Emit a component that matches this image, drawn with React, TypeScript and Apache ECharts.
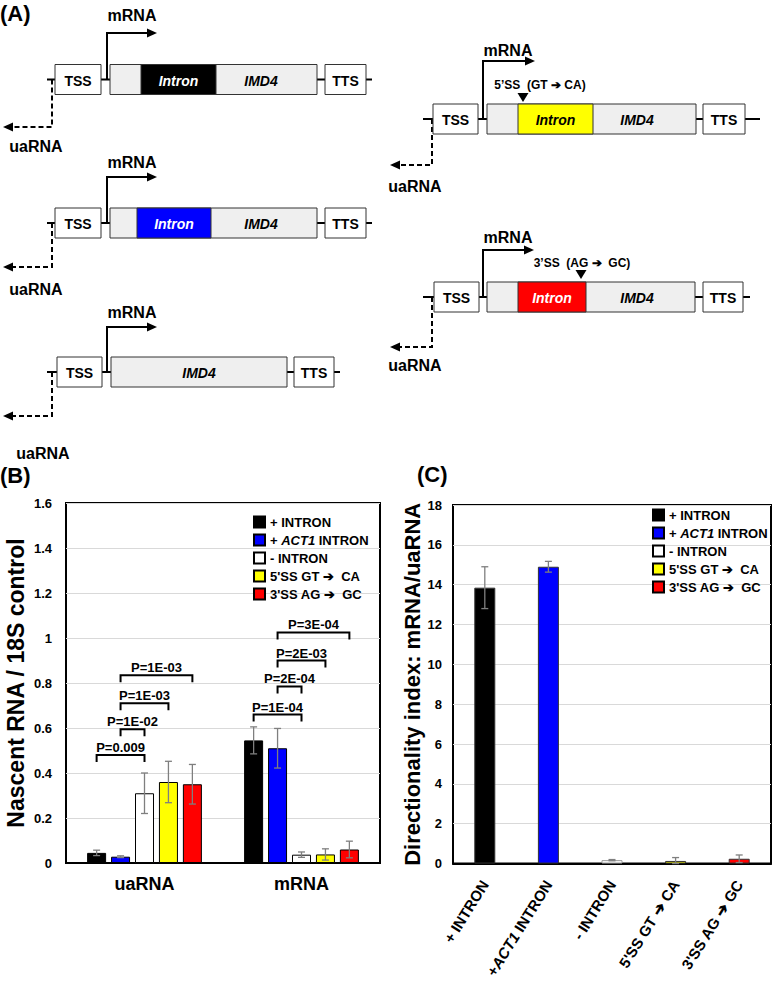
import React, { useEffect, useRef } from 'react';
import * as echarts from 'echarts';

const FONT = '"Liberation Sans", Arial, Helvetica, sans-serif';

// ---------- Panel B data ----------
const rnaCategories = ['uaRNA', 'mRNA'];
const constructNames = ['+ INTRON', '+ ACT1 INTRON', '- INTRON', "5'SS GT ➔  CA", "3'SS AG ➔  GC"];
const constructColors = ['#000000', '#0000ff', '#ffffff', '#ffff00', '#ff0000'];
const plusIntron = [0.045, 0.545];
const plusIntronErr = [0.012, 0.06];
const plusAct1Intron = [0.028, 0.51];
const plusAct1IntronErr = [0.004, 0.088];
const minusIntron = [0.31, 0.037];
const minusIntronErr = [0.09, 0.012];
const ss5Mutant = [0.36, 0.038];
const ss5MutantErr = [0.092, 0.025];
const ss3Mutant = [0.35, 0.06];
const ss3MutantErr = [0.088, 0.037];

const bracketGroup = [0, 0, 0, 0, 1, 1, 1, 1];
const bracketFrom = [0, 1, 1, 1, 0, 1, 1, 1];
const bracketTo = [2, 2, 3, 4, 2, 2, 3, 4];
const bracketY = [0.48, 0.595, 0.71, 0.835, 0.66, 0.785, 0.9, 1.025];
const bracketLabels = ['P=0.009', 'P=1E-02', 'P=1E-03', 'P=1E-03', 'P=1E-04', 'P=2E-04', 'P=2E-03', 'P=3E-04'];

// ---------- Panel C data ----------
const directionCategories = ['+ INTRON', '+ACT1 INTRON', '- INTRON', "5'SS GT ➔ CA", "3'SS AG ➔ GC"];
const directionality = [13.85, 14.9, 0.17, 0.13, 0.24];
const directionalityErr = [1.05, 0.27, 0.03, 0.17, 0.19];

const nascentValues = [plusIntron, plusAct1Intron, minusIntron, ss5Mutant, ss3Mutant];
const nascentErrors = [plusIntronErr, plusAct1IntronErr, minusIntronErr, ss5MutantErr, ss3MutantErr];

// ---------- Panel A layout ----------
type Construct = {
  y: number; lineStart: number; lineEnd: number;
  tss: number[]; gene: number[]; tts: number[];
  intron?: number[]; intronFill?: string; intronText?: string;
  geneLabelX: number;
  mrnaX: number; mrnaTop: number; mrnaEnd: number; mrnaLabelX: number; mrnaLabelY: number;
  uaX: number; uaBottom: number; uaEnd: number; uaLabelX: number; uaLabelY: number;
  mutation?: string; mutationX?: number; mutationY?: number; triX?: number; triY?: number;
};

const constructs: Construct[] = [
  { y: 79.5, lineStart: 47, lineEnd: 372, tss: [55, 101], gene: [110, 317], tts: [325, 366], intron: [141, 216], intronFill: '#000000', intronText: '#ffffff', geneLabelX: 261, mrnaX: 107, mrnaTop: 33, mrnaEnd: 157, mrnaLabelX: 132, mrnaLabelY: 15, uaX: 52, uaBottom: 127, uaEnd: 3, uaLabelX: 36, uaLabelY: 146 },
  { y: 223, lineStart: 47, lineEnd: 372, tss: [55, 101], gene: [110, 317], tts: [325, 366], intron: [137, 211], intronFill: '#0000ff', intronText: '#ffffff', geneLabelX: 261, mrnaX: 107, mrnaTop: 177, mrnaEnd: 157, mrnaLabelX: 132, mrnaLabelY: 162, uaX: 52, uaBottom: 267, uaEnd: 3, uaLabelX: 36, uaLabelY: 289 },
  { y: 372, lineStart: 47, lineEnd: 340, tss: [57, 102], gene: [111, 287], tts: [294, 334], geneLabelX: 199, mrnaX: 107, mrnaTop: 327, mrnaEnd: 157, mrnaLabelX: 132, mrnaLabelY: 312, uaX: 52, uaBottom: 416, uaEnd: 3, uaLabelX: 43, uaLabelY: 453 },
  { y: 119, lineStart: 423, lineEnd: 760, tss: [433, 478], gene: [487, 696], tts: [703, 745], intron: [518, 593], intronFill: '#ffff00', intronText: '#000000', geneLabelX: 637, mrnaX: 483, mrnaTop: 61, mrnaEnd: 535, mrnaLabelX: 508, mrnaLabelY: 50, uaX: 432, uaBottom: 165, uaEnd: 390, uaLabelX: 415, uaLabelY: 186, mutation: '5’SS  (GT ➔ CA)', mutationX: 540, mutationY: 85, triX: 523, triY: 93 },
  { y: 297, lineStart: 423, lineEnd: 750, tss: [434, 479], gene: [487, 695], tts: [703, 743], intron: [518, 586], intronFill: '#ff0000', intronText: '#ffffff', geneLabelX: 637, mrnaX: 483, mrnaTop: 250, mrnaEnd: 534, mrnaLabelX: 508, mrnaLabelY: 237, uaX: 432, uaBottom: 347, uaEnd: 390, uaLabelX: 415, uaLabelY: 365, mutation: '3’SS  (AG ➔  GC)', mutationX: 582, mutationY: 263, triX: 581, triY: 270 },
];

const txt = (text: string, x: number, y: number, size: number, opts: any = {}) => ({
  type: 'text',
  x,
  y,
  z: 10,
  style: {
    text,
    fill: opts.fill || '#000',
    font: `${opts.italic ? 'italic ' : ''}bold ${size}px ${FONT}`,
    align: opts.align || 'center',
    verticalAlign: opts.va || 'middle',
    textAlign: opts.align || 'center',
    textVerticalAlign: opts.va || 'middle',
  },
});

const line = (x1: number, y1: number, x2: number, y2: number, extra: any = {}) => ({
  type: 'line',
  z: 5,
  shape: { x1, y1, x2, y2 },
  style: { stroke: '#000', lineWidth: 2, ...extra },
});

function constructGraphics(c: Construct): any[] {
  const h = 30;
  const top = c.y - h / 2;
  const els: any[] = [];
  els.push(line(c.lineStart, c.y, c.tss[0], c.y));
  els.push(line(c.tss[1], c.y, c.gene[0], c.y));
  els.push(line(c.gene[1], c.y, c.tts[0], c.y));
  els.push(line(c.tts[1], c.y, c.lineEnd, c.y));
  els.push({ type: 'rect', z: 6, shape: { x: c.tss[0], y: top, width: c.tss[1] - c.tss[0], height: h }, style: { fill: '#fff', stroke: '#333', lineWidth: 1 } });
  els.push(txt('TSS', (c.tss[0] + c.tss[1]) / 2, c.y + 1, 14));
  els.push({ type: 'rect', z: 6, shape: { x: c.gene[0], y: top, width: c.gene[1] - c.gene[0], height: h }, style: { fill: '#efefef', stroke: '#333', lineWidth: 1 } });
  if (c.intron) {
    els.push({ type: 'rect', z: 7, shape: { x: c.intron[0], y: top, width: c.intron[1] - c.intron[0], height: h }, style: { fill: c.intronFill, stroke: '#333', lineWidth: 1 } });
    els.push(txt('Intron', (c.intron[0] + c.intron[1]) / 2, c.y + 1, 14, { italic: true, fill: c.intronText }));
  }
  els.push(txt('IMD4', c.geneLabelX, c.y + 1, 14, { italic: true }));
  els.push({ type: 'rect', z: 6, shape: { x: c.tts[0], y: top, width: c.tts[1] - c.tts[0], height: h }, style: { fill: '#fff', stroke: '#333', lineWidth: 1 } });
  els.push(txt('TTS', (c.tts[0] + c.tts[1]) / 2, c.y + 1, 14));
  // mRNA arrow
  els.push({ type: 'polyline', z: 5, shape: { points: [[c.mrnaX, c.y], [c.mrnaX, c.mrnaTop], [c.mrnaEnd - 8, c.mrnaTop]] }, style: { stroke: '#000', lineWidth: 2, fill: null } });
  els.push({ type: 'polygon', z: 5, shape: { points: [[c.mrnaEnd - 10, c.mrnaTop - 4.5], [c.mrnaEnd, c.mrnaTop], [c.mrnaEnd - 10, c.mrnaTop + 4.5]] }, style: { fill: '#000' } });
  els.push(txt('mRNA', c.mrnaLabelX, c.mrnaLabelY, 16));
  // uaRNA dashed arrow
  els.push({ type: 'polyline', z: 5, shape: { points: [[c.uaX, c.y], [c.uaX, c.uaBottom], [c.uaEnd + 8, c.uaBottom]] }, style: { stroke: '#000', lineWidth: 2, lineDash: [5, 3], fill: null } });
  els.push({ type: 'polygon', z: 5, shape: { points: [[c.uaEnd + 10, c.uaBottom - 4.5], [c.uaEnd, c.uaBottom], [c.uaEnd + 10, c.uaBottom + 4.5]] }, style: { fill: '#000' } });
  els.push(txt('uaRNA', c.uaLabelX, c.uaLabelY, 16));
  if (c.mutation) {
    els.push(txt(c.mutation, c.mutationX!, c.mutationY!, 12));
    els.push({ type: 'polygon', z: 8, shape: { points: [[c.triX! - 5.5, c.triY!], [c.triX! + 5.5, c.triY!], [c.triX!, c.triY! + 9]] }, style: { fill: '#000' } });
  }
  return els;
}

const BAR_W = 19;
const BAR_GAP = 0.26;
const PITCH = BAR_W * (1 + BAR_GAP);
const ERR_COLOR = '#7f7f7f';

const italicFormatter = (name: string) => (name.indexOf('ACT1') >= 0 ? name.replace('ACT1', '{i|ACT1}') : name);

export default function App() {
  const ref = useRef<HTMLDivElement>(null);

  useEffect(() => {
    if (!ref.current) return;
    const chart = echarts.init(ref.current, null, { renderer: 'svg' });

    const labelStyle = { fontFamily: FONT, fontWeight: 'bold', fontSize: 13, color: '#000' };
    const legendBase = {
      orient: 'vertical',
      icon: 'rect',
      itemWidth: 11,
      itemHeight: 11,
      itemGap: 4,
      padding: 0,
      selectedMode: false,
      data: constructNames,
      formatter: italicFormatter,
      textStyle: {
        ...labelStyle,
        lineHeight: 14,
        rich: { i: { fontFamily: FONT, fontWeight: 'bold', fontStyle: 'italic', fontSize: 13, color: '#000', lineHeight: 14 } },
      },
    };

    const errorDataB: number[][] = [];
    nascentValues.forEach((vals, s) => vals.forEach((v, c) => errorDataB.push([c, v, nascentErrors[s][c], s])));

    const errorDataC = directionality.map((v, i) => [i, v, directionalityErr[i]]);

    const drawError = (xCenter: number, yTop: number, yBot: number) => ({
      type: 'group',
      children: [
        { type: 'line', shape: { x1: xCenter, y1: yTop, x2: xCenter, y2: yBot }, style: { stroke: ERR_COLOR, lineWidth: 1.3 } },
        { type: 'line', shape: { x1: xCenter - 3.5, y1: yTop, x2: xCenter + 3.5, y2: yTop }, style: { stroke: ERR_COLOR, lineWidth: 1.3 } },
        { type: 'line', shape: { x1: xCenter - 3.5, y1: yBot, x2: xCenter + 3.5, y2: yBot }, style: { stroke: ERR_COLOR, lineWidth: 1.3 } },
      ],
    });

    const graphics: any[] = [
      txt('(A)', 0, 13, 22, { align: 'left' }),
      txt('(B)', 0, 475, 22, { align: 'left' }),
      txt('(C)', 417, 474, 22, { align: 'left' }),
    ];
    constructs.forEach((c) => graphics.push(...constructGraphics(c)));

    const option: any = {
      animation: false,
      backgroundColor: '#ffffff',
      textStyle: { fontFamily: FONT },
      graphic: graphics,
      legend: [
        { ...legendBase, left: 253, top: 515 },
        { ...legendBase, left: 652, top: 508 },
      ],
      grid: [
        { left: 66, top: 503, width: 314, height: 360, show: true, borderColor: '#000', borderWidth: 2, backgroundColor: 'transparent' },
        { left: 453, top: 505, width: 318, height: 361, show: true, borderColor: '#000', borderWidth: 2, backgroundColor: 'transparent' },
      ],
      xAxis: [
        {
          type: 'category', gridIndex: 0, data: rnaCategories,
          axisTick: { show: false },
          axisLine: { lineStyle: { color: '#000', width: 2 } },
          axisLabel: { ...labelStyle, fontSize: 18, margin: 12 },
        },
        {
          type: 'category', gridIndex: 1, data: directionCategories,
          axisTick: { show: false },
          axisLine: { lineStyle: { color: '#000', width: 2 } },
          axisLabel: {
            ...labelStyle, fontSize: 15, rotate: 58, interval: 0, margin: 18,
            formatter: italicFormatter,
            rich: { i: { fontFamily: FONT, fontWeight: 'bold', fontStyle: 'italic', fontSize: 15, color: '#000' } },
          },
        },
      ],
      yAxis: [
        {
          type: 'value', gridIndex: 0, min: 0, max: 1.6, interval: 0.2,
          name: 'Nascent RNA / 18S control', nameLocation: 'middle', nameGap: 39,
          nameTextStyle: { fontFamily: FONT, fontWeight: 'bold', fontSize: 23, color: '#000' },
          axisLine: { show: false }, axisTick: { show: false },
          axisLabel: { ...labelStyle, margin: 14 },
          splitLine: { lineStyle: { color: '#d9d9d9', width: 1 } },
        },
        {
          type: 'value', gridIndex: 1, min: 0, max: 18, interval: 2,
          name: 'Directionality index: mRNA/uaRNA', nameLocation: 'middle', nameGap: 29,
          nameTextStyle: { fontFamily: FONT, fontWeight: 'bold', fontSize: 22, color: '#000' },
          axisLine: { show: false }, axisTick: { show: false },
          axisLabel: { ...labelStyle, margin: 11 },
          splitLine: { lineStyle: { color: '#d9d9d9', width: 1 } },
        },
      ],
      series: [
        ...constructNames.map((name, i) => ({
          type: 'bar', name, xAxisIndex: 0, yAxisIndex: 0,
          data: nascentValues[i],
          barWidth: BAR_W, barGap: `${BAR_GAP * 100}%`,
          itemStyle: { color: constructColors[i], borderColor: '#000', borderWidth: 1 },
        })),
        {
          type: 'custom', xAxisIndex: 0, yAxisIndex: 0, z: 5,
          data: errorDataB,
          encode: { x: 0, y: 1 },
          renderItem: (params: any, api: any) => {
            const c = api.value(0), v = api.value(1), e = api.value(2), s = api.value(3);
            const base = api.coord([c, v]);
            const x = base[0] + (s - 2) * PITCH;
            return drawError(x, api.coord([c, v + e])[1], api.coord([c, v - e])[1]);
          },
        },
        {
          type: 'custom', xAxisIndex: 0, yAxisIndex: 0, z: 6,
          data: bracketY.map((y, i) => [bracketGroup[i], y]),
          encode: { x: 0, y: 1 },
          renderItem: (params: any, api: any) => {
            const i = params.dataIndex;
            const base = api.coord([api.value(0), api.value(1)]);
            const x1 = base[0] + (bracketFrom[i] - 2) * PITCH;
            const x2 = base[0] + (bracketTo[i] - 2) * PITCH;
            const y = base[1];
            return {
              type: 'group',
              children: [
                { type: 'polyline', shape: { points: [[x1, y + 7], [x1, y], [x2, y], [x2, y + 7]] }, style: { stroke: '#000', lineWidth: 2, fill: null } },
                {
                  type: 'text', x: (x1 + x2) / 2, y: y - 1,
                  style: { text: bracketLabels[i], fill: '#000', font: `bold 13px ${FONT}`, align: 'center', verticalAlign: 'bottom', textAlign: 'center', textVerticalAlign: 'bottom' },
                },
              ],
            };
          },
        },
        {
          type: 'bar', xAxisIndex: 1, yAxisIndex: 1, barWidth: 21,
          data: directionality.map((v, i) => ({
            value: v,
            itemStyle: { color: constructColors[i], borderColor: i === 2 ? '#999' : '#333', borderWidth: 1 },
          })),
        },
        {
          type: 'custom', xAxisIndex: 1, yAxisIndex: 1, z: 5,
          data: errorDataC,
          encode: { x: 0, y: 1 },
          renderItem: (params: any, api: any) => {
            const c = api.value(0), v = api.value(1), e = api.value(2);
            const base = api.coord([c, v]);
            return drawError(base[0], api.coord([c, v + e])[1], api.coord([c, Math.max(0, v - e)])[1]);
          },
        },
      ],
    };

    chart.setOption(option);
    return () => chart.dispose();
  }, []);

  return <div ref={ref} style={{ position: 'absolute', left: 0, top: 0, width: 774, height: 981 }} />;
}
